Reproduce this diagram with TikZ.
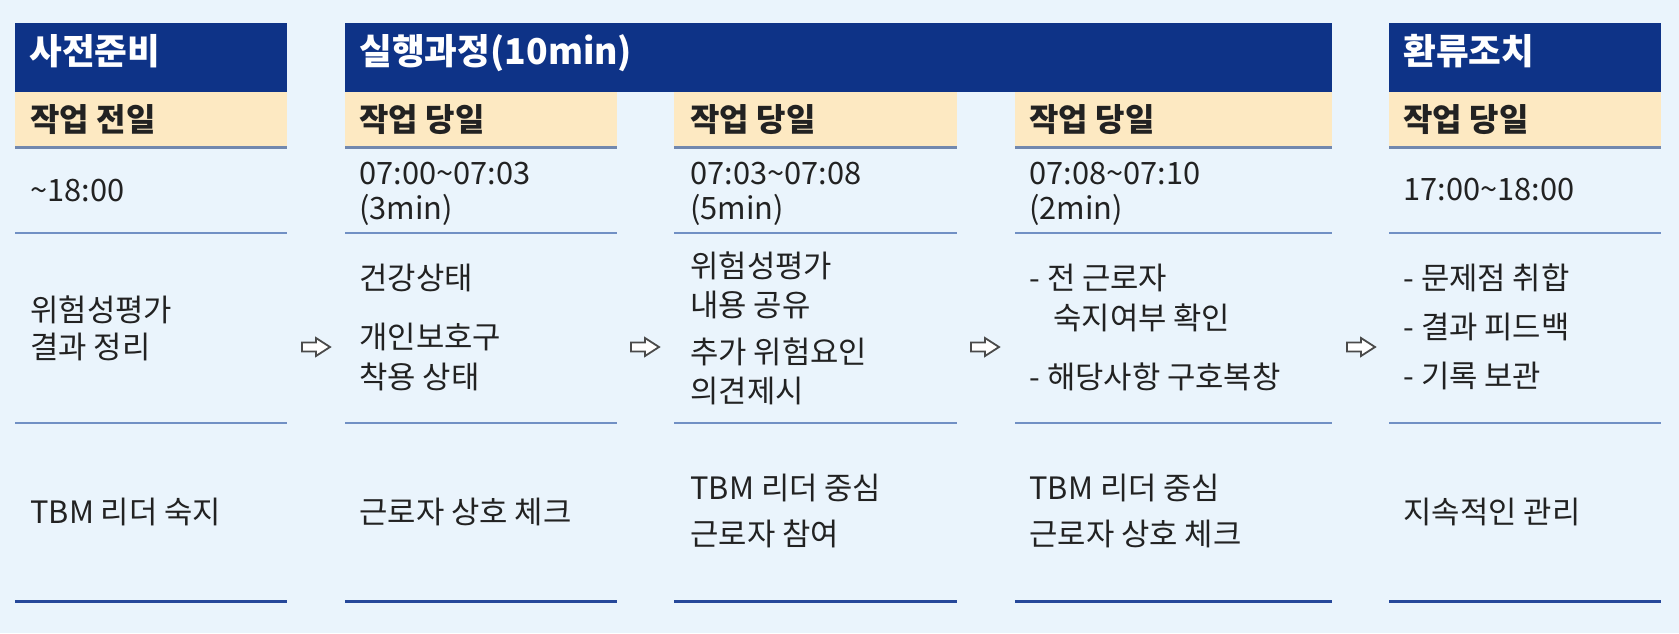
\documentclass[tikz,border=0pt]{standalone}
\usepackage{fontspec}
\setmainfont{Noto Sans CJK KR}
\definecolor{bgc}{HTML}{EAF4FC}
\definecolor{darkhead}{HTML}{0E3387}
\definecolor{yhead}{HTML}{FDE9C2}
\definecolor{lineA}{HTML}{7288AE}
\definecolor{lineB}{HTML}{7190C4}
\definecolor{lineC}{HTML}{26489A}
\definecolor{txt}{HTML}{222222}
\definecolor{arrc}{HTML}{4A4A4A}
\tikzset{
  body/.style={anchor=base west, inner sep=0pt, text=txt, font=\fontsize{15.4}{18}\selectfont},
  yhtext/.style={anchor=base west, inner sep=0pt, text=txt, font=\fontsize{16}{19}\selectfont\bfseries},
  dhtext/.style={anchor=base west, inner sep=0pt, text=white, font=\fontsize{17.8}{21}\selectfont\bfseries},
  lnA/.style={draw=lineA, line width=1.5pt},
  lnB/.style={draw=lineB, line width=1.2pt},
  lnC/.style={draw=lineC, line width=1.5pt},
  hollowarrow/.pic={\draw[draw=arrc, fill=white, line width=0.9pt, line join=miter]
     (-14,-4.5) -- (0,-4.5) -- (0,-9) -- (14,0) -- (0,9) -- (0,4.5) -- (-14,4.5) -- cycle;}
}
\begin{document}
\begin{tikzpicture}[x=0.5pt, y=-0.5pt]
\useasboundingbox (0,0) rectangle (1679,633);
\fill[bgc] (0,0) rectangle (1679,633);
% dark header bars
\fill[darkhead] (15,23) rectangle (287,92);
\fill[darkhead] (345,23) rectangle (1332,92);
\fill[darkhead] (1389,23) rectangle (1661,92);
% columns
\foreach \a/\b in {15/287,345/617,674/957,1015/1332,1389/1661} {
  \fill[yhead] (\a,92) rectangle (\b,147);
  \path[lnA] (\a,147.5) -- (\b,147.5);
  \path[lnB] (\a,233) -- (\b,233);
  \path[lnB] (\a,423) -- (\b,423);
  \path[lnC] (\a,601) -- (\b,601);
}
% header texts
\node[dhtext] (h1) at (29,64) {사전준비};
\node[dhtext] (h2) at (359,64) {실행과정(10min)};
\node[dhtext] (h3) at (1403,64) {환류조치};
% yellow sub-headers
\node[yhtext] (y1) at (30,131) {작업 전일};
\node[yhtext] (y2) at (359,131) {작업 당일};
\node[yhtext] (y3) at (690,131) {작업 당일};
\node[yhtext] (y4) at (1029,131) {작업 당일};
\node[yhtext] (y5) at (1403,131) {작업 당일};
% time row
\node[body] (t1) at (30,201) {\textasciitilde18:00};
\node[body] (t2a) at (359,184) {07:00\textasciitilde07:03};
\node[body] (t2b) at (359,219) {(3min)};
\node[body] (t3a) at (690,184) {07:03\textasciitilde07:08};
\node[body] (t3b) at (690,219) {(5min)};
\node[body] (t4a) at (1029,184) {07:08\textasciitilde07:10};
\node[body] (t4b) at (1029,219) {(2min)};
\node[body] (t5) at (1403,200) {17:00\textasciitilde18:00};
% content row
\node[body] (c1a) at (30,321) {위험성평가};
\node[body] (c1b) at (30,358) {결과 정리};
\node[body] (c2a) at (359,289) {건강상태};
\node[body] (c2b) at (359,348) {개인보호구};
\node[body] (c2c) at (359,388) {착용 상태};
\node[body] (c3a) at (690,277) {위험성평가};
\node[body] (c3b) at (690,316) {내용 공유};
\node[body] (c3c) at (690,363) {추가 위험요인};
\node[body] (c3d) at (690,402) {의견제시};
\node[body] (c4a) at (1029,289) {- 전 근로자};
\node[body] (c4b) at (1053,329) {숙지여부 확인};
\node[body] (c4c) at (1029,388) {- 해당사항 구호복창};
\node[body] (c5a) at (1403,289) {- 문제점 취합};
\node[body] (c5b) at (1403,338) {- 결과 피드백};
\node[body] (c5c) at (1403,387) {- 기록 보관};
% bottom row
\node[body] (b1) at (30,523) {TBM 리더 숙지};
\node[body] (b2) at (359,523) {근로자 상호 체크};
\node[body] (b3a) at (690,499) {TBM 리더 중심};
\node[body] (b3b) at (690,545) {근로자 참여};
\node[body] (b4a) at (1029,499) {TBM 리더 중심};
\node[body] (b4b) at (1029,545) {근로자 상호 체크};
\node[body] (b5) at (1403,523) {지속적인 관리};
% arrows between columns
\coordinate (a1) at (316,347);
\coordinate (a2) at (645,347);
\coordinate (a3) at (985,347);
\coordinate (a4) at (1361,347);
\foreach \p in {a1,a2,a3,a4} \pic at (\p) {hollowarrow};
\end{tikzpicture}
\end{document}
